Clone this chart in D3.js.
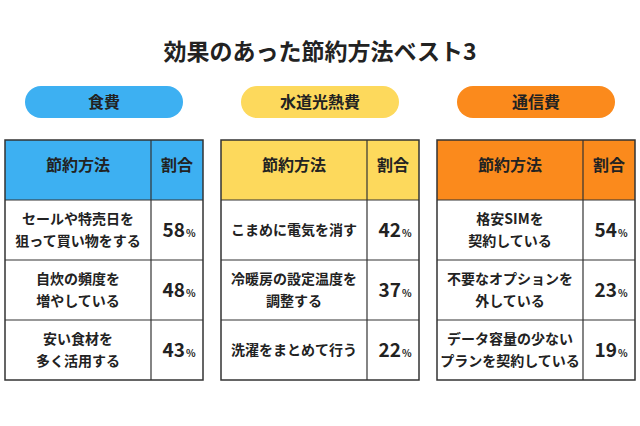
<!DOCTYPE html>
<html><head><meta charset="utf-8">
<script src="https://cdn.jsdelivr.net/npm/d3@7"></script>
<style>body{margin:0;background:#fff}text{font-family:"Noto Sans CJK JP",sans-serif;font-weight:700;fill:#222}</style>
</head><body><svg id="chart" width="640" height="426"></svg>
<script>
// data
var title = "効果のあった節約方法ベスト3";
var categories = ["食費", "水道光熱費", "通信費"];
var colors = ["#3db0f2", "#fdd95c", "#fb8a1c"];
var headers = ["節約方法", "割合"];
var methods = [
  [["セールや特売日を", "狙って買い物をする"], ["自炊の頻度を", "増やしている"], ["安い食材を", "多く活用する"]],
  [["こまめに電気を消す"], ["冷暖房の設定温度を", "調整する"], ["洗濯をまとめて行う"]],
  [["格安SIMを", "契約している"], ["不要なオプションを", "外している"], ["データ容量の少ない", "プランを契約している"]]
];
var shares = [[58, 48, 43], [42, 37, 22], [54, 23, 19]];

var svg = d3.select("#chart");
var x = d3.scaleBand().domain(categories).range([5, 635]).paddingInner(18 / 216).paddingOuter(0);
var rowY = d3.scaleBand().domain(["head", 0, 1, 2]).range([140, 380]);

svg.append("text").attr("x", 320).attr("y", 60).attr("text-anchor", "middle")
  .style("font-size", "23px").text(title);

categories.forEach(function (cat, ci) {
  var x0 = x(cat), w = x.bandwidth(), split = x0 + 146;
  var g = svg.append("g");
  // pill
  g.append("rect").attr("x", x0 + 20).attr("y", 86).attr("width", 158).attr("height", 32)
    .attr("rx", 16).attr("fill", colors[ci]);
  g.append("text").attr("x", x0 + 99).attr("y", 108).attr("text-anchor", "middle")
    .style("font-size", "16px").text(cat);
  // header
  g.append("rect").attr("x", x0).attr("y", rowY("head")).attr("width", w).attr("height", rowY.bandwidth())
    .attr("fill", colors[ci]);
  g.append("text").attr("x", (x0 + split) / 2).attr("y", rowY("head") + 31).attr("text-anchor", "middle")
    .style("font-size", "16px").text(headers[0]);
  g.append("text").attr("x", (split + x0 + w) / 2).attr("y", rowY("head") + 31).attr("text-anchor", "middle")
    .style("font-size", "16px").text(headers[1]);
  // rows
  methods[ci].forEach(function (lines, ri) {
    var y0 = rowY(ri), h = rowY.bandwidth(), cy = y0 + h / 2;
    var t = g.append("text").attr("text-anchor", "middle").style("font-size", "14px");
    lines.forEach(function (l, li) {
      t.append("tspan").attr("x", (x0 + split) / 2)
        .attr("y", cy + 5 + (li - (lines.length - 1) / 2) * 22).text(l);
    });
    var p = g.append("text").attr("x", (split + x0 + w) / 2 + 2).attr("y", cy + 7).attr("text-anchor", "middle");
    p.append("tspan").style("font-size", "19px").text(shares[ci][ri]);
    p.append("tspan").style("font-size", "10px").attr("dx", 1).text("%");
  });
  // grid lines
  g.append("rect").attr("x", x0).attr("y", 140).attr("width", w).attr("height", 240)
    .attr("fill", "none").attr("stroke", "#333").attr("stroke-width", 1.5);
  g.append("line").attr("x1", split).attr("x2", split).attr("y1", 140).attr("y2", 380)
    .attr("stroke", "#333").attr("stroke-width", 1.2);
  [0, 1, 2].forEach(function (ri) {
    g.append("line").attr("x1", x0).attr("x2", x0 + w).attr("y1", rowY(ri)).attr("y2", rowY(ri))
      .attr("stroke", "#333").attr("stroke-width", 1.2);
  });
});
</script></body></html>
